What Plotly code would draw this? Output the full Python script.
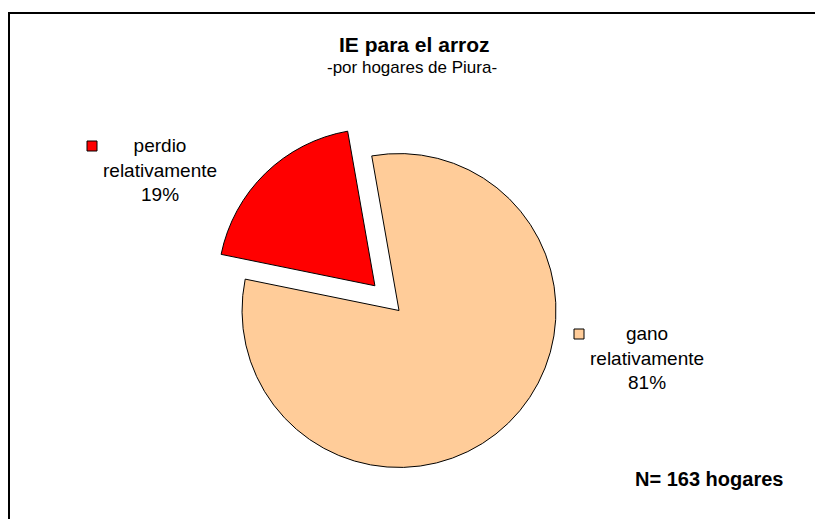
import plotly.graph_objects as go

# datos
categorias = ["gano relativamente", "perdio relativamente"]
hogares = [132, 31]
colores = ["#FFCC99", "#FF0000"]
separacion = [0, 0.22]
n_total = sum(hogares)

W, H = 823, 519
OFF = 8  # margen por defecto del body en la pagina

def px(x):
    return (x - OFF) / W

def py(y):
    return 1 - (y - OFF) / H

fig = go.Figure()
fig.add_trace(go.Pie(
    labels=categorias,
    values=hogares,
    sort=False,
    direction="clockwise",
    rotation=-10,
    pull=separacion,
    marker=dict(colors=colores, line=dict(color="black", width=1)),
    textinfo="none",
    hoverinfo="label+percent",
    showlegend=False,
    domain=dict(x=[px(207.5), px(590.5)], y=[py(502), py(119)]),
))

# etiquetas de los sectores (texto + cuadro de color)
pos_texto = [(647, 358), (160, 170)]
pos_cuadro = [(579, 334), (92, 146)]
for cat, val, col, (tx, ty), (cx, cy) in zip(categorias, hogares, colores, pos_texto, pos_cuadro):
    pct = round(100 * val / n_total)
    palabras = cat.split(" ")
    fig.add_annotation(
        text=f"{palabras[0]}<br>{palabras[1]}<br>{pct}%",
        x=px(tx), y=py(ty), xref="paper", yref="paper",
        xanchor="center", yanchor="middle",
        showarrow=False, align="center",
        font=dict(family="Liberation Sans, Arial", size=19, color="black"),
    )
    fig.add_shape(
        type="rect", xref="paper", yref="paper",
        x0=px(cx - 5), x1=px(cx + 5), y0=py(cy + 5), y1=py(cy - 5),
        fillcolor=col, line=dict(color="black", width=1),
    )

# titulo
fig.add_annotation(
    text="<b>IE para el arroz</b>", x=px(414), y=py(45), xref="paper", yref="paper",
    xanchor="center", yanchor="middle",
    showarrow=False, font=dict(family="Liberation Sans, Arial", size=21, color="black"),
)
fig.add_annotation(
    text="-por hogares de Piura-", x=px(412), y=py(67), xref="paper", yref="paper",
    xanchor="center", yanchor="middle",
    showarrow=False, font=dict(family="Liberation Sans, Arial", size=17, color="black"),
)
fig.add_annotation(
    text=f"<b>N= {n_total} hogares</b>", x=px(709), y=py(479), xref="paper", yref="paper",
    xanchor="center", yanchor="middle",
    showarrow=False, font=dict(family="Liberation Sans, Arial", size=20, color="black"),
)

# marco
fig.add_shape(
    type="rect", xref="paper", yref="paper",
    x0=px(9), x1=1.02, y0=-0.02, y1=py(13),
    line=dict(color="black", width=2), fillcolor="rgba(0,0,0,0)",
)

fig.update_layout(
    width=W, height=H,
    margin=dict(l=0, r=0, t=0, b=0),
    paper_bgcolor="white",
    plot_bgcolor="white",
)

fig.write_html("out.html")
